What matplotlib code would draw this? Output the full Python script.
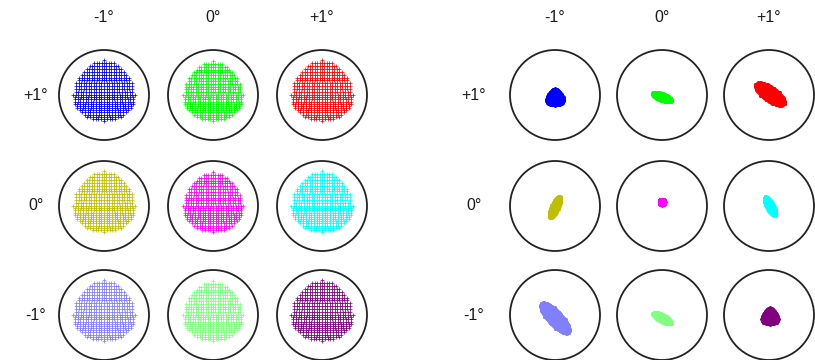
import numpy as np
import matplotlib.pyplot as plt
from matplotlib.patches import Circle

plt.rcParams['font.family'] = ['Liberation Sans', 'DejaVu Sans']

# field angles (columns: x field, rows: y field)
col_labels = ['-1\u00b0', '0\u00b0', '+1\u00b0']
row_labels = ['+1\u00b0', '0\u00b0', '-1\u00b0']

colors = [[(0, 0, 1), (0, 1, 0), (1, 0, 0)],
          [(0.75, 0.75, 0), (1, 0, 1), (0, 1, 1)],
          [(0.5, 0.5, 1), (0.5, 1, 0.5), (0.5, 0, 0.5)]]

# left block: defocused spots (pixels): half width, extent above / below centre
blur_half_w = [[31, 30, 31], [31, 30, 31], [31, 30, 31]]
blur_top = [[35, 34, 35], [35, 34, 35], [35, 34, 35]]
blur_bot = [[26, 26, 26], [26, 26, 26], [26, 26, 26]]

# right block: corrected spots (pixels) -> length, width, tilt (deg), skew
spot_dx = [[0, 0, 1], [0, 0, 1], [0, 0, 1]]
spot_dy = [[2, 2, -1], [1, -4, 0], [3, 3, 1]]
spot_len = [[18, 22, 36], [25, 7, 22], [42, 22, 18]]
spot_wid = [[17, 8, 15], [8, 7, 8], [15, 8, 16]]
spot_ang = [[0, -22, -35], [65, 0, -60], [-47, -30, 0]]
spot_skew = [[0.45, 0.0, 0.0], [0.0, 0.0, 0.0], [0.0, 0.0, 0.45]]

R = 45.0                     # circle radius in pixels
W, H = 815, 360
left_x = [104, 213, 322]
right_x = [555, 662, 769]
rows_y = [95, 206, 315]

fig = plt.figure(figsize=(W / 100, H / 100), dpi=100)


def pupil(n):
    g = np.linspace(-1, 1, n)
    pu, pv = np.meshgrid(g, g)
    keep = pu**2 + pv**2 <= 1.0
    return pu[keep], pv[keep]


def cell_axes(cx, cy):
    ax = fig.add_axes([(cx - R) / W, 1 - (cy + R) / H, 2 * R / W, 2 * R / H])
    ax.set_xlim(-1, 1)
    ax.set_ylim(-1, 1)
    ax.axis('off')
    ax.add_patch(Circle((0, 0), 1.0, fill=False, ec='#222222', lw=1.3,
                        clip_on=False))
    return ax


qu, qv = pupil(25)
pu, pv = pupil(27)

for i in range(3):
    for j in range(3):
        # defocused spot: dome on top, flatter bottom
        ax = cell_axes(left_x[j], rows_y[i])
        u = qu * (1 - 0.08 * qv) * blur_half_w[i][j] / R
        v = np.where(qv > 0, qv * blur_top[i][j], qv * blur_bot[i][j]) / R
        ax.plot(u, v, '+', color=colors[i][j], ms=3.4, mew=0.5, snap=False)

        # corrected spot
        ax = cell_axes(right_x[j], rows_y[i])
        a = spot_len[i][j] / 2 / R
        b = spot_wid[i][j] / 2 / R
        if spot_skew[i][j] > 0:
            x = pu * b * (1 - spot_skew[i][j] * pv)
            y = pv * a * 0.95
        else:
            u = pu * b
            v = pv * a
            t = np.deg2rad(spot_ang[i][j])
            x = v * np.cos(t) - u * np.sin(t)
            y = v * np.sin(t) + u * np.cos(t)
        ax.plot(spot_dx[i][j] / R + x, -spot_dy[i][j] / R + y, 'o',
                color=colors[i][j], ms=2.2, mew=0)

for k in range(3):
    for cx in (left_x[k], right_x[k]):
        fig.text(cx / W, 1 - 18 / H, col_labels[k], ha='center',
                 va='center', fontsize=11.5, color='#1a1a1a')
    for rx in (36, 474):
        fig.text(rx / W, 1 - rows_y[k] / H, row_labels[k], ha='center',
                 va='center', fontsize=11.5, color='#1a1a1a')

fig.savefig('out.png', dpi=100)
